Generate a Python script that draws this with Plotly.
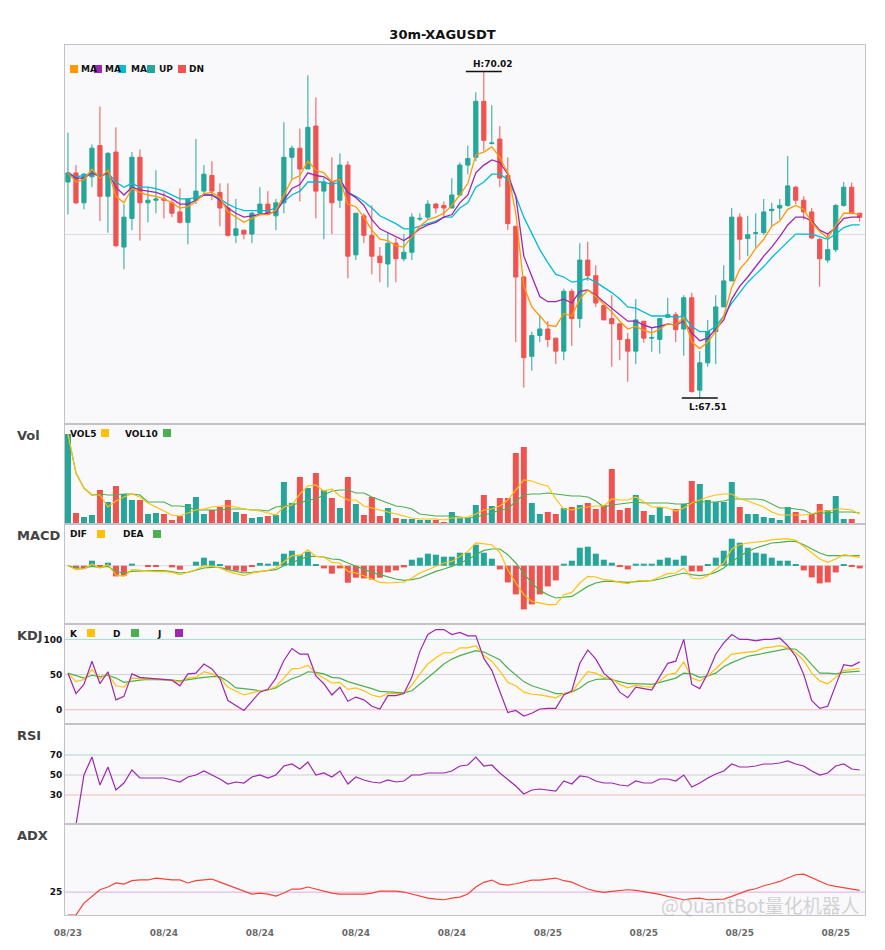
import plotly.graph_objects as go
from plotly.subplots import make_subplots

# ---------------- data ----------------
tick_pos = [0, 12, 24, 36, 48, 60, 72, 84, 96]
tick_labels = ["08/23", "08/24", "08/24", "08/24", "08/24", "08/25", "08/25", "08/25", "08/25"]

open_ = [69.17, 69.24, 69.01, 69.21, 69.45, 69.06, 69.40, 68.67, 68.89, 69.36,
         69.01, 69.03, 69.04, 69.01, 68.94, 68.86, 69.03, 69.10, 69.22, 69.09,
         68.97, 68.76, 68.80, 68.77, 68.93, 69.00, 68.91, 69.01, 69.36, 69.43,
         69.27, 69.60, 69.10, 69.17, 69.03, 69.30, 68.61, 68.91, 68.76, 68.60,
         68.54, 68.70, 68.58, 68.63, 68.885, 68.90, 69.00, 68.99, 68.97, 69.07,
         69.30, 69.36, 69.79, 69.465, 69.50, 69.22, 68.83, 68.44, 67.83, 67.99,
         68.04, 67.97, 67.87, 68.33, 68.12, 68.57, 68.45, 68.22, 68.12, 68.08,
         67.96, 67.87, 68.10, 67.97, 67.96, 68.13, 68.15, 68.04, 68.28, 67.57,
         67.78, 68.02, 68.21, 68.41, 68.90, 68.735, 68.775, 68.78, 68.95, 68.97,
         68.99, 69.13, 69.03, 68.94, 68.73, 68.57, 68.65, 68.99, 69.13, 68.93]
high_ = [69.55, 69.30, 69.24, 69.46, 69.75, 69.40, 69.59, 69.00, 69.40, 69.42,
         69.13, 69.26, 69.09, 69.04, 69.12, 69.04, 69.50, 69.30, 69.33, 69.16,
         69.16, 69.04, 68.80, 68.94, 69.13, 69.10, 69.04, 69.63, 69.45, 69.58,
         69.99, 69.82, 69.20, 69.36, 69.39, 69.33, 68.93, 68.93, 68.99, 68.67,
         68.78, 68.74, 68.77, 68.93, 68.93, 69.03, 69.01, 69.02, 69.20, 69.32,
         69.45, 69.86, 70.02, 69.76, 69.60, 69.36, 68.83, 68.45, 68.02, 68.15,
         68.10, 67.97, 68.35, 68.35, 68.70, 68.71, 68.53, 68.22, 68.30, 68.08,
         68.01, 68.27, 68.10, 68.05, 68.12, 68.28, 68.17, 68.30, 68.32, 67.87,
         68.11, 68.30, 68.53, 68.97, 68.93, 68.91, 68.93, 69.04, 69.01, 69.04,
         69.37, 69.14, 69.06, 68.97, 68.74, 68.77, 69.00, 69.17, 69.165, 68.93]
low_ = [68.92, 69.00, 68.96, 69.13, 68.87, 68.78, 68.67, 68.50, 68.80, 68.72,
        68.86, 68.93, 68.89, 68.90, 68.85, 68.69, 69.00, 69.07, 69.03, 68.83,
        68.75, 68.70, 68.73, 68.70, 68.92, 68.92, 68.80, 68.93, 69.19, 69.02,
        69.27, 68.89, 68.73, 68.77, 68.97, 68.43, 68.57, 68.70, 68.46, 68.40,
        68.36, 68.40, 68.56, 68.57, 68.87, 68.88, 68.93, 68.90, 68.97, 69.06,
        69.23, 69.33, 69.41, 69.46, 69.13, 68.80, 67.94, 67.59, 67.72, 67.94,
        67.90, 67.77, 67.80, 67.91, 68.05, 68.41, 68.21, 68.11, 67.75, 67.80,
        67.635, 67.77, 67.935, 67.865, 67.85, 68.13, 67.94, 67.835, 67.55, 67.51,
        67.75, 67.77, 68.21, 68.41, 68.57, 68.60, 68.665, 68.765, 68.83, 68.88,
        68.98, 69.00, 68.88, 68.73, 68.365, 68.55, 68.63, 68.98, 68.92, 68.865]
close_ = [69.24, 69.01, 69.23, 69.43, 69.06, 69.39, 68.68, 68.90, 69.36, 69.01,
          69.03, 69.04, 69.03, 68.93, 68.86, 69.04, 69.10, 69.23, 69.10, 68.97,
          68.76, 68.81, 68.77, 68.93, 69.00, 68.92, 69.01, 69.36, 69.43, 69.27,
          69.59, 69.10, 69.17, 69.01, 69.30, 68.60, 68.93, 68.76, 68.60, 68.55,
          68.70, 68.58, 68.63, 68.90, 68.89, 69.00, 68.97, 68.97, 69.07, 69.30,
          69.35, 69.79, 69.49, 69.47, 69.20, 68.85, 68.44, 67.82, 67.99, 68.04,
          67.96, 67.87, 68.33, 68.12, 68.57, 68.45, 68.24, 68.11, 68.08, 67.96,
          67.87, 68.11, 67.97, 67.975, 68.12, 68.15, 68.035, 68.28, 67.56, 67.78,
          68.02, 68.21, 68.41, 68.90, 68.73, 68.765, 68.78, 68.94, 68.96, 68.99,
          69.14, 69.03, 68.94, 68.74, 68.58, 68.65, 68.99, 69.13, 68.93, 68.90]

ma_fast = [69.24, 69.17, 69.19, 69.27, 69.20, 69.26, 69.06, 69.01, 69.12, 69.09,
           69.07, 69.06, 69.04, 69.01, 68.97, 68.98, 69.02, 69.08, 69.09, 69.05,
           68.94, 68.90, 68.86, 68.89, 68.92, 68.92, 68.95, 69.07, 69.19, 69.22,
           69.33, 69.26, 69.24, 69.17, 69.19, 69.00, 68.98, 68.90, 68.80, 68.73,
           68.72, 68.68, 68.67, 68.75, 68.83, 68.88, 68.90, 68.93, 68.99, 69.07,
           69.16, 69.38, 69.40, 69.44, 69.36, 69.24, 68.93, 68.37, 68.21, 68.14,
           68.07, 68.06, 68.16, 68.14, 68.27, 68.34, 68.29, 68.23, 68.17, 68.10,
           68.04, 68.06, 68.03, 68.01, 68.04, 68.08, 68.07, 68.13, 67.94, 67.89,
           67.94, 68.02, 68.14, 68.36, 68.50, 68.57, 68.66, 68.73, 68.83, 68.87,
           68.96, 68.99, 68.96, 68.86, 68.79, 68.74, 68.83, 68.93, 68.93, 68.92]
ma_mid = [69.24, 69.20, 69.20, 69.24, 69.21, 69.24, 69.13, 69.07, 69.13, 69.11,
          69.10, 69.09, 69.07, 69.04, 69.00, 69.00, 69.03, 69.07, 69.07, 69.03,
          68.97, 68.93, 68.90, 68.91, 68.92, 68.93, 68.94, 69.03, 69.12, 69.15,
          69.24, 69.22, 69.21, 69.17, 69.19, 69.09, 69.05, 68.99, 68.88, 68.81,
          68.78, 68.75, 68.72, 68.76, 68.81, 68.84, 68.86, 68.90, 68.92, 69.01,
          69.07, 69.24, 69.30, 69.34, 69.32, 69.23, 69.06, 68.60, 68.44, 68.29,
          68.25, 68.25, 68.27, 68.24, 68.33, 68.34, 68.30, 68.25, 68.20, 68.15,
          68.10, 68.10, 68.07, 68.05, 68.06, 68.08, 68.07, 68.10, 68.01, 67.95,
          67.97, 68.04, 68.11, 68.27, 68.37, 68.44, 68.52, 68.60, 68.67, 68.75,
          68.84, 68.90, 68.90, 68.87, 68.80, 68.77, 68.82, 68.89, 68.90, 68.90]
ma_slow = [69.24, 69.21, 69.22, 69.24, 69.22, 69.24, 69.17, 69.13, 69.16, 69.13,
           69.13, 69.12, 69.10, 69.07, 69.04, 69.04, 69.05, 69.07, 69.07, 69.04,
           69.00, 68.97, 68.95, 68.95, 68.95, 68.95, 68.97, 69.02, 69.07, 69.10,
           69.17, 69.17, 69.17, 69.15, 69.17, 69.09, 69.06, 69.02, 68.97, 68.91,
           68.88, 68.85, 68.81, 68.81, 68.83, 68.85, 68.87, 68.90, 68.90, 68.97,
           69.01, 69.13, 69.17, 69.23, 69.23, 69.19, 69.06, 68.90, 68.77, 68.65,
           68.55, 68.46, 68.44, 68.40, 68.41, 68.43, 68.40, 68.36, 68.32, 68.27,
           68.21, 68.20, 68.17, 68.14, 68.14, 68.14, 68.13, 68.14, 68.06, 68.02,
           68.02, 68.06, 68.14, 68.24, 68.32, 68.40, 68.46, 68.52, 68.59, 68.65,
           68.71, 68.77, 68.77, 68.77, 68.75, 68.73, 68.77, 68.82, 68.84, 68.84]

volume = [90, 11, 7, 9, 34, 22, 38, 30, 24, 24,
          10, 11, 10, 4, 8, 20, 27, 10, 14, 17,
          24, 12, 10, 6, 7, 8, 9, 42, 21, 47,
          36, 51, 34, 26, 16, 47, 20, 9, 27, 8,
          16, 6, 5, 5, 4, 4, 4, 2, 12, 6,
          6, 19, 29, 18, 26, 26, 71, 77, 21, 10,
          12, 10, 16, 17, 19, 21, 15, 19, 55, 14,
          16, 29, 13, 9, 17, 8, 15, 20, 43, 40,
          24, 22, 22, 42, 17, 10, 10, 7, 6, 4,
          17, 12, 4, 10, 20, 14, 28, 5, 5, 1]
vol5 = [90, 51, 36, 29, 29, 17, 23, 27, 30, 27,
        21, 17, 13, 9, 8, 11, 14, 15, 17, 18,
        18, 17, 15, 14, 13, 11, 9, 17, 19, 30,
        38, 39, 33, 35, 28, 24, 24, 18, 16, 14,
        12, 10, 8, 6, 5, 5, 5, 4, 6, 6,
        7, 10, 14, 15, 18, 24, 34, 44, 43, 40,
        38, 25, 15, 14, 16, 17, 18, 18, 25, 24,
        24, 27, 22, 17, 17, 16, 13, 16, 21, 24,
        27, 29, 30, 30, 25, 23, 20, 17, 12, 9,
        9, 9, 9, 10, 13, 13, 15, 15, 14, 10]
vol10 = [90, 51, 36, 29, 30, 29, 29, 30, 30, 29,
         22, 22, 22, 18, 18, 17, 14, 14, 14, 14,
         15, 15, 15, 14, 14, 13, 17, 18, 19, 21,
         24, 25, 29, 33, 34, 34, 31, 31, 27, 24,
         21, 18, 17, 15, 10, 9, 8, 8, 8, 7,
         6, 7, 9, 11, 14, 15, 23, 29, 30, 30,
         31, 30, 29, 28, 28, 27, 23, 17, 19, 20,
         21, 22, 21, 21, 21, 21, 20, 20, 21, 22,
         22, 22, 23, 25, 25, 25, 25, 24, 20, 16,
         16, 15, 14, 10, 11, 11, 12, 12, 12, 11]

dif = [0.0, -0.004, -0.0033, 0.0017, -0.0023, 0.001, -0.0093, -0.0107, -0.004, -0.0047,
       -0.0057, -0.006, -0.0057, -0.0067, -0.009, -0.0067, -0.004, 0.0, -0.0007, -0.0023,
       -0.0057, -0.008, -0.01, -0.0073, -0.0057, -0.0047, -0.0023, 0.0043, 0.01, 0.01,
       0.016, 0.0093, 0.0087, 0.0033, 0.0027, -0.0057, -0.0073, -0.01, -0.0133, -0.0167,
       -0.0173, -0.0167, -0.0163, -0.0123, -0.0073, -0.004, -0.0007, 0.0027, 0.0043, 0.0093,
       0.0143, 0.0227, 0.022, 0.021, 0.0133, -0.004, -0.0173, -0.029, -0.0357, -0.0373,
       -0.039, -0.039, -0.029, -0.0267, -0.0173, -0.0107, -0.0113, -0.014, -0.0147, -0.0167,
       -0.018, -0.0153, -0.0147, -0.0147, -0.0113, -0.008, -0.0073, -0.0023, -0.0123, -0.0133,
       -0.01, -0.004, 0.0027, 0.0167, 0.021, 0.0227, 0.0233, 0.0243, 0.026, 0.0267,
       0.027, 0.0253, 0.0193, 0.0127, 0.0067, 0.0033, 0.0067, 0.011, 0.01, 0.0083]
dea = [0.0, -0.0023, -0.0023, -0.0007, -0.0017, -0.0007, -0.0057, -0.0073, -0.0057, -0.005,
       -0.005, -0.005, -0.005, -0.006, -0.0073, -0.0067, -0.0047, -0.0023, -0.0017, -0.0017,
       -0.004, -0.0057, -0.0073, -0.0067, -0.0057, -0.0047, -0.004, 0.0, 0.0033, 0.006,
       0.0093, 0.0093, 0.0087, 0.0067, 0.006, 0.0027, -0.0007, -0.0033, -0.0067, -0.009,
       -0.0113, -0.0133, -0.0147, -0.014, -0.0123, -0.009, -0.0057, -0.0033, -0.0007, 0.0027,
       0.006, 0.011, 0.0153, 0.0167, 0.0167, 0.011, 0.0027, -0.008, -0.0173, -0.0247,
       -0.029, -0.0323, -0.0317, -0.0307, -0.0257, -0.0207, -0.0173, -0.0157, -0.0157, -0.016,
       -0.0167, -0.016, -0.0157, -0.015, -0.0133, -0.0113, -0.01, -0.0073, -0.009, -0.01,
       -0.009, -0.0067, -0.0023, 0.0043, 0.0093, 0.0143, 0.0177, 0.02, 0.0227, 0.0233,
       0.0243, 0.0243, 0.021, 0.0167, 0.0127, 0.01, 0.01, 0.01, 0.01, 0.01]
macd_hist = [0.0, -0.0027, -0.0027, 0.005, -0.0013, 0.003, -0.0107, -0.01, 0.002, 0.0,
             -0.0007, -0.0007, 0.0, -0.0017, -0.004, 0.0, 0.004, 0.008, 0.005, 0.001,
             -0.004, -0.005, -0.006, -0.0007, 0.0027, 0.002, 0.004, 0.012, 0.015, 0.011,
             0.014, 0.001, -0.0027, -0.008, -0.0027, -0.017, -0.012, -0.0127, -0.014, -0.012,
             -0.0067, -0.0047, -0.0017, 0.006, 0.008, 0.012, 0.011, 0.009, 0.009, 0.013,
             0.013, 0.021, 0.013, 0.007, -0.0037, -0.0167, -0.0287, -0.0437, -0.0387, -0.0287,
             -0.0207, -0.0147, 0.002, 0.005, 0.018, 0.019, 0.012, 0.006, 0.003, -0.001,
             -0.0037, 0.002, 0.002, 0.002, 0.006, 0.008, 0.006, 0.01, -0.0057, -0.0057,
             0.001, 0.008, 0.015, 0.027, 0.023, 0.018, 0.013, 0.012, 0.008, 0.005,
             0.005, 0.001, -0.0047, -0.0117, -0.0177, -0.0167, -0.0067, 0.001, -0.0007, -0.0027]

kdj_k = [52, 40, 43, 57, 44, 51, 34, 32, 45, 44,
         44, 44, 43, 42, 39, 45, 46, 54, 51, 46,
         32, 26, 21, 24, 27, 28, 33, 45, 58, 59,
         63, 52, 45, 38, 39, 29, 31, 27, 21, 18,
         23, 23, 23, 35, 51, 65, 74, 81, 81, 88,
         88, 91, 77, 69, 55, 39, 34, 25, 22, 21,
         19, 17, 23, 25, 40, 54, 52, 46, 44, 36,
         31, 35, 33, 32, 41, 50, 52, 68, 45, 41,
         48, 59, 69, 79, 81, 82, 83, 88, 89, 91,
         88, 81, 70, 52, 41, 37, 46, 56, 57, 59]
kdj_d = [52, 48, 45, 49, 47, 49, 45, 39, 41, 42,
         43, 43, 43, 42, 41, 43, 44, 46, 47, 47,
         40, 31, 30, 29, 27, 28, 31, 38, 44, 48,
         54, 53, 51, 46, 45, 40, 37, 34, 30, 26,
         25, 24, 24, 27, 36, 45, 55, 65, 72, 77,
         81, 84, 82, 77, 71, 59, 50, 40, 34, 31,
         27, 23, 23, 25, 31, 39, 43, 44, 43, 40,
         37, 37, 36, 36, 39, 42, 45, 52, 51, 46,
         48, 52, 61, 67, 72, 76, 78, 80, 82, 84,
         87, 86, 77, 64, 52, 52, 51, 53, 54, 55]
kdj_j = [52, 23, 36, 69, 37, 54, 14, 19, 51, 46,
         45, 44, 43, 42, 34, 51, 52, 65, 58, 44,
         13, 6, -1, 12, 25, 29, 45, 70, 87, 79,
         79, 48, 37, 21, 32, 12, 18, 14, 5, 1,
         20, 20, 23, 46, 83, 107, 114, 114, 107, 110,
         105, 105, 73, 56, 25, -4, -1, -9, -5, 1,
         2, 2, 21, 27, 66, 85, 72, 52, 42, 25,
         17, 32, 30, 28, 47, 66, 69, 100, 36, 30,
         52, 79, 95, 107, 100, 100, 98, 100, 100, 102,
         91, 76, 50, 13, 2, 5, 35, 64, 62, 68]

rsi = [0, 0, 50, 68, 40, 58, 35, 42, 55, 47,
       47, 47, 47, 45, 43, 48, 50, 54, 50, 46,
       41, 43, 42, 48, 50, 47, 50, 59, 61, 56,
       63, 50, 52, 48, 54, 41, 48, 45, 43, 42,
       45, 43, 44, 50, 50, 52, 52, 52, 54, 59,
       60, 68, 59, 60, 52, 45, 39, 31, 35, 36,
       35, 34, 44, 41, 49, 48, 44, 42, 42, 40,
       39, 44, 42, 42, 46, 46, 44, 50, 38, 42,
       47, 51, 54, 61, 58, 58, 59, 61, 61, 62,
       64, 61, 59, 54, 50, 52, 59, 61, 56, 55]

adx = [0, 0, 13, 20, 27.6, 30.6, 35, 33.8, 37.5, 38.3,
       38.3, 40.4, 39.3, 38.3, 38.3, 35, 37.5, 38.3, 39.3, 36,
       32.7, 29.4, 26.2, 22.9, 24, 22.9, 20.7, 24, 28.4, 28.4,
       30.6, 28.4, 26.2, 24, 22.9, 22.9, 22.9, 22.9, 24, 26.2,
       26.2, 26.2, 25.1, 22.9, 20.7, 18.5, 17.4, 16.7, 18.5, 19.6,
       22.9, 30.6, 35.7, 38.2, 33.8, 32.7, 34.2, 36, 38.2, 38.2,
       39.3, 40.4, 37.5, 36, 32, 28.4, 26.2, 24.7, 25.8, 26.9,
       27.6, 26.9, 25.5, 24.7, 22.5, 20.3, 18.9, 16.7, 17.8, 18.5,
       16.7, 16.7, 17.4, 20.3, 24, 26.9, 28.7, 32, 34.2, 36.7,
       40.4, 44, 44.7, 41.1, 36.7, 33.1, 31.3, 29.8, 27.6, 26.9]

# ---------------- style ----------------
FONT = "DejaVu Sans"
UP, DN = "#26a69a", "#ef5350"
C_MA1, C_MA2, C_MA3 = "#ff9800", "#9c27b0", "#00bcd4"
C_Y, C_G, C_P = "#ffc107", "#4caf50", "#9c27b0"
BORDER = "#c2c2c8"
BG = "#f9f9fb"

W, H = 885, 950
ML, MR, MT, MB = 65, 20, 45, 35
PW, PH = W - ML - MR, H - MT - MB


def px(x):
    return (x - ML) / PW


def py(y):
    return (H - MB - y) / PH


idx = list(range(len(close_)))
bar_colors = [UP if c >= o else DN for o, c in zip(open_, close_)]
hist_colors = [UP if v >= 0 else DN for v in macd_hist]

fig = make_subplots(rows=6, cols=1, shared_xaxes=True, vertical_spacing=0,
                    row_heights=[379, 100, 100, 100, 100, 91])

# main panel
fig.add_trace(go.Candlestick(
    x=idx, open=open_, high=high_, low=low_, close=close_,
    increasing=dict(line=dict(color=UP, width=1), fillcolor=UP),
    decreasing=dict(line=dict(color=DN, width=1), fillcolor=DN),
    whiskerwidth=0, showlegend=False, hoverinfo="skip"), row=1, col=1)
for ys, col in [(ma_slow, C_MA3), (ma_mid, C_MA2), (ma_fast, C_MA1)]:
    fig.add_trace(go.Scatter(x=idx, y=ys, mode="lines", line=dict(color=col, width=1.3),
                             showlegend=False, hoverinfo="skip"), row=1, col=1)

# volume
fig.add_trace(go.Bar(x=idx, y=volume, marker=dict(color=bar_colors, line=dict(width=0)),
                     width=0.75, showlegend=False, hoverinfo="skip"), row=2, col=1)
fig.add_trace(go.Scatter(x=idx, y=vol10, mode="lines", line=dict(color=C_G, width=1.2),
                         showlegend=False, hoverinfo="skip"), row=2, col=1)
fig.add_trace(go.Scatter(x=idx, y=vol5, mode="lines", line=dict(color=C_Y, width=1.2),
                         showlegend=False, hoverinfo="skip"), row=2, col=1)

# MACD
fig.add_trace(go.Bar(x=idx, y=macd_hist, marker=dict(color=hist_colors, line=dict(width=0)),
                     width=0.75, showlegend=False, hoverinfo="skip"), row=3, col=1)
fig.add_trace(go.Scatter(x=idx, y=dea, mode="lines", line=dict(color=C_G, width=1.2),
                         showlegend=False, hoverinfo="skip"), row=3, col=1)
fig.add_trace(go.Scatter(x=idx, y=dif, mode="lines", line=dict(color=C_Y, width=1.2),
                         showlegend=False, hoverinfo="skip"), row=3, col=1)

# KDJ
for ys, col in [(kdj_d, C_G), (kdj_k, C_Y), (kdj_j, C_P)]:
    fig.add_trace(go.Scatter(x=idx, y=ys, mode="lines", line=dict(color=col, width=1.2),
                             showlegend=False, hoverinfo="skip"), row=4, col=1)
# RSI
fig.add_trace(go.Scatter(x=idx, y=rsi, mode="lines", line=dict(color=C_P, width=1.2),
                         showlegend=False, hoverinfo="skip"), row=5, col=1)
# ADX
fig.add_trace(go.Scatter(x=idx, y=adx, mode="lines", line=dict(color="#f44336", width=1.2),
                         showlegend=False, hoverinfo="skip"), row=6, col=1)

# reference lines
TEAL_L, GRAY_L, PINK_L = "#a6d9d4", "#cfcfd4", "#f6b9b9"
for r, levels in [(4, [(100, TEAL_L), (50, GRAY_L), (0, PINK_L)]),
                  (5, [(70, TEAL_L), (50, GRAY_L), (30, PINK_L)]),
                  (6, [(25, "#dcaee0")]),
                  (3, [(0, "#dcdce2")])]:
    for lv, col in levels:
        fig.add_hline(y=lv, line=dict(color=col, width=1), layer="below", row=r, col=1)

# axes
for r in range(1, 7):
    fig.update_xaxes(range=[-0.37, 99.66], showgrid=False, zeroline=False,
                     showline=True, mirror=True, linecolor=BORDER, linewidth=1,
                     tickmode="array", tickvals=tick_pos, ticktext=tick_labels,
                     showticklabels=(r == 6), ticks="outside" if r == 6 else "",
                     ticklen=9, tickcolor="rgba(0,0,0,0)",
                     tickfont=dict(family=FONT, size=9, color="#6a6a6a", weight="bold"),
                     row=r, col=1)
fig.update_xaxes(rangeslider=dict(visible=False), row=1, col=1)

yfont = dict(family=FONT, size=9, color="#111111", weight="bold")
common_y = dict(zeroline=False, showline=True, mirror=True, linecolor=BORDER, linewidth=1, ticks="")
fig.update_yaxes(range=[67.31, 70.223], tickvals=[68.77], showticklabels=False,
                 showgrid=True, gridcolor="#dcdce4", gridwidth=1, row=1, col=1, **common_y)
fig.update_yaxes(range=[0, 100], showticklabels=False, showgrid=False, row=2, col=1, **common_y)
fig.update_yaxes(range=[-0.0583, 0.0417], showticklabels=False, showgrid=False, row=3, col=1, **common_y)
fig.update_yaxes(range=[-20.3, 121.9], tickvals=[0, 50, 100], showgrid=False,
                 tickfont=yfont, row=4, col=1, **common_y)
fig.update_yaxes(range=[1, 101], tickvals=[30, 50, 70], showgrid=False,
                 tickfont=yfont, row=5, col=1, **common_y)
fig.update_yaxes(range=[0, 99.5], tickvals=[25], showgrid=False,
                 tickfont=yfont, row=6, col=1, **common_y)

# high / low markers
hi_v = max(high_)
hi_i = high_.index(hi_v)
lo_v = min(low_)
lo_i = low_.index(lo_v)
fig.add_shape(type="line", xref="x", yref="y", x0=hi_i - 2.25, x1=hi_i + 2.25, y0=hi_v, y1=hi_v,
              line=dict(color="#111111", width=1.5))
fig.add_shape(type="line", xref="x", yref="y", x0=lo_i - 2.25, x1=lo_i + 2.25, y0=lo_v, y1=lo_v,
              line=dict(color="#111111", width=1.5))
fig.add_annotation(xref="x", yref="y", x=hi_i, y=hi_v, xanchor="left", yanchor="bottom",
                   xshift=-13, yshift=0, showarrow=False, text=f"<b>H:{hi_v:.2f}</b>",
                   font=dict(family=FONT, size=9, color="#111111"))
fig.add_annotation(xref="x", yref="y", x=lo_i, y=lo_v, xanchor="left", yanchor="top",
                   xshift=-13, yshift=-2, showarrow=False, text=f"<b>L:{lo_v:.2f}</b>",
                   font=dict(family=FONT, size=9, color="#111111"))


def label(text, x, y, size=9, color="#111111"):
    fig.add_annotation(xref="paper", yref="paper", x=px(x), y=py(y), xanchor="left",
                       yanchor="middle", text=f"<b>{text}</b>", showarrow=False,
                       borderpad=0, font=dict(family=FONT, size=size, color=color))


def square(x0, x1, y0, y1, color):
    fig.add_shape(type="rect", xref="paper", yref="paper", x0=px(x0), x1=px(x1),
                  y0=py(y1), y1=py(y0), fillcolor=color, line=dict(width=0))


# main legend
for sx, col, txt, tx in [(70, C_MA1, "MA", 80), (94, C_MA2, "MA", 104), (118, C_MA3, "MA", 130),
                         (147, UP, "UP", 158), (178, DN, "DN", 188)]:
    square(sx, sx + 8, 65, 73, col)
    label(txt, tx, 69)
# volume legend
label("VOL5", 69, 434)
square(101, 109, 429, 437, C_Y)
label("VOL10", 124, 434)
square(163, 171, 429, 437, C_G)
# MACD legend
label("DIF", 69, 534)
square(97, 105, 530, 538, C_Y)
label("DEA", 122, 534)
square(153, 161, 530, 538, C_G)
# KDJ legend
label("K", 69, 634)
square(87, 95, 629, 637, C_Y)
label("D", 112, 634)
square(131, 139, 629, 637, C_G)
label("J", 156, 634)
square(175, 183, 629, 637, C_P)

# panel names
for name, yy in [("Vol", 435), ("MACD", 535), ("KDJ", 635), ("RSI", 735), ("ADX", 835)]:
    label(name, 16, yy, size=13, color="#444444")

# watermark (kept inside the bottom panel so it does not collide with the date labels)
fig.add_annotation(xref="paper", yref="paper", x=px(862), y=py(904), xanchor="right",
                   yanchor="middle", showarrow=False, text="@QuantBot量化机器人",
                   font=dict(family="Noto Sans CJK SC", size=19, color="rgba(170,170,170,0.5)"))

fig.update_layout(
    width=W, height=H, margin=dict(l=ML, r=MR, t=MT, b=MB),
    paper_bgcolor="white", plot_bgcolor=BG, boxgap=0.25, bargap=0.25,
    showlegend=False, font=dict(family=FONT),
    title=dict(text="<b>30m-XAGUSDT</b>", x=0.5, xref="container", xanchor="center",
               y=1 - 34 / H, yref="container", yanchor="middle",
               font=dict(family=FONT, size=13, color="#111111")),
)

fig.write_html("out.html", config={"displayModeBar": False},
               post_script="document.body.style.margin='0px';")
